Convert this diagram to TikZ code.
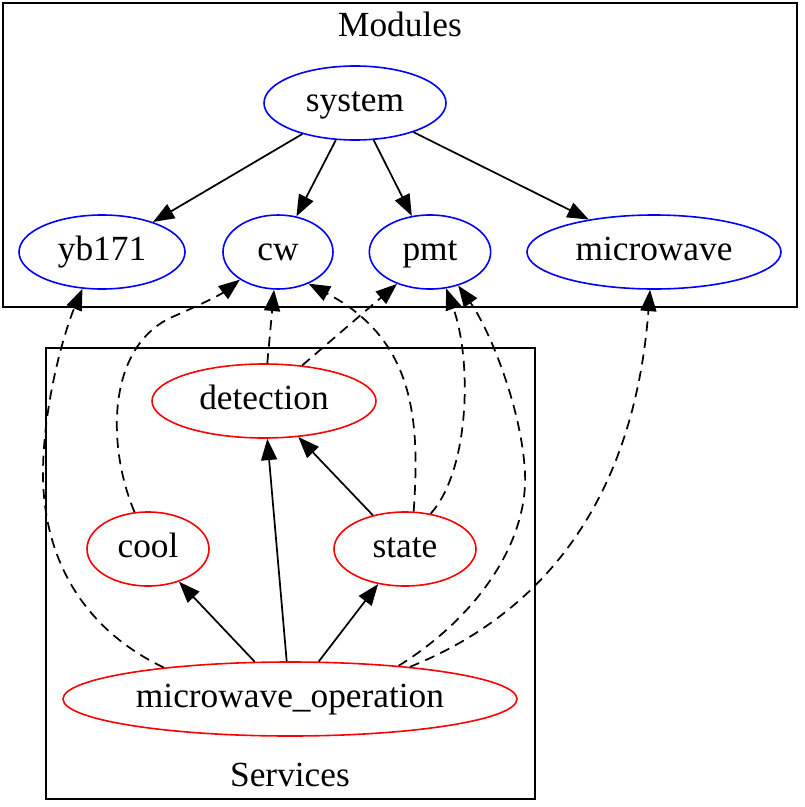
\documentclass[tikz,border=0pt]{standalone}
\usepackage{fontspec}
\setmainfont{Liberation Serif}
\usetikzlibrary{shapes.geometric, arrows.meta}

\begin{document}
\begin{tikzpicture}[
  x=0.75pt, y=-0.75pt,
  modnode/.style={draw=blue, ellipse, line width=1.2pt, inner sep=0pt,
                  minimum height=55.5pt, text height=18pt, text depth=5.6pt,
                  font=\fontsize{26.5}{30}\selectfont},
  svcnode/.style={draw=red, ellipse, line width=1.2pt, inner sep=0pt,
                  minimum height=55.5pt, text height=18pt, text depth=5.6pt,
                  font=\fontsize{26.5}{30}\selectfont},
  cluster/.style={draw, line width=1.3pt},
  clabel/.style={font=\fontsize{26.5}{30}\selectfont},
  arr/.style={-{Triangle[length=16pt, width=12pt]}, line width=1.3pt},
  dasharr/.style={-{Triangle[length=16pt, width=12pt]}, line width=1.3pt,
                  dash pattern=on 7.5pt off 5pt},
]
  \useasboundingbox (0,0) rectangle (804,807);

  % ── Clusters ──
  \draw[cluster] (3,3) rectangle (797,307);
  \node[clabel] (modlabel) at (400,24) {Modules};
  \draw[cluster] (46,348) rectangle (535,799);
  \node[clabel] (svclabel) at (290,775) {Services};

  % ── Modules ──
  \node[modnode, minimum width=136.5pt] (system)    at (355,103) {system};
  \node[modnode, minimum width=124.5pt] (yb171)     at (102,252) {yb171};
  \node[modnode, minimum width=82.5pt]  (cw)        at (278,252) {cw};
  \node[modnode, minimum width=91pt]    (pmt)       at (430,252) {pmt};
  \node[modnode, minimum width=190.5pt] (microwave) at (654,252) {microwave};

  % ── Services ──
  \node[svcnode, minimum width=168pt]   (detection) at (264,401) {detection};
  \node[svcnode, minimum width=91.5pt]  (cool)      at (148,549) {cool};
  \node[svcnode, minimum width=106.5pt] (state)     at (405,549) {state};
  \node[svcnode, minimum width=340.5pt] (mwop)      at (290,699) {microwave\_operation};

  % ══ Solid arrows ══
  \draw[arr] (system) -- (yb171);
  \draw[arr] (system) -- (cw);
  \draw[arr] (system) -- (pmt);
  \draw[arr] (system) -- (microwave);
  \draw[arr] (mwop) -- (cool);
  \draw[arr] (mwop) -- (detection);
  \draw[arr] (mwop) -- (state);
  \draw[arr] (state) -- (detection);

  % ══ Dashed arrows: services → modules ══
  \draw[dasharr] (mwop.166) .. controls (85,630) and (42,560) .. (43,470)
    .. controls (44,400) and (65,330) .. (yb171.242);
  \draw[dasharr] (cool.110) .. controls (108,450) and (105,350) .. (170,318)
    .. controls (200,305) and (220,295) .. (cw.216);
  \draw[dasharr] (detection.85) -- (cw.264);
  \draw[dasharr] (detection.43) -- (pmt.224);
  \draw[dasharr] (state.77) .. controls (420,420) and (415,340) .. (cw.314);
  \draw[dasharr] (state.54) .. controls (470,470) and (472,360) .. (pmt.294);
  \draw[dasharr] (mwop.17) .. controls (480,615) and (528,540) .. (525,473)
    .. controls (522,410) and (490,330) .. (pmt.310);
  \draw[dasharr] (mwop.15) .. controls (600,590) and (640,420) .. (microwave.264);

\end{tikzpicture}
\end{document}
